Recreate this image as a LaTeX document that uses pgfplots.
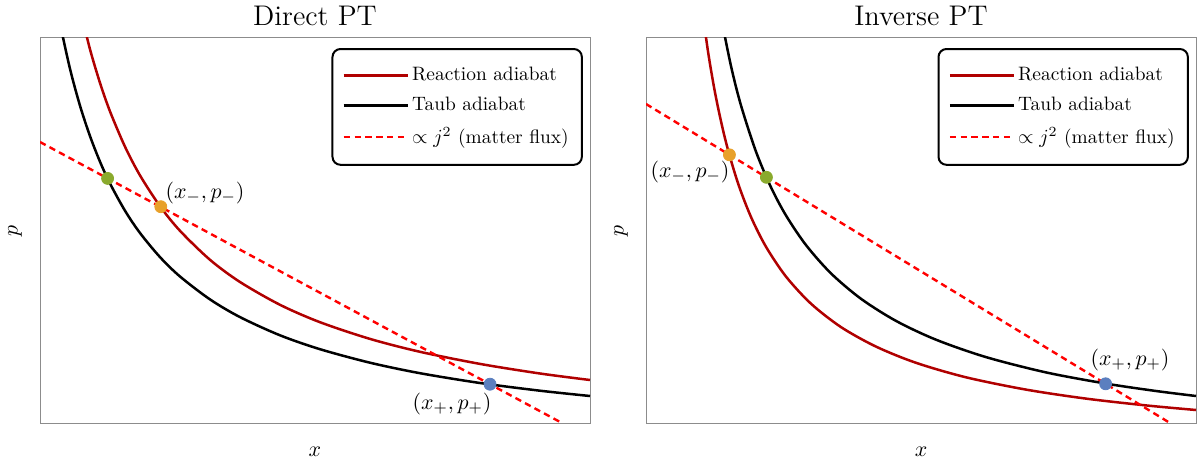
\documentclass[border=0pt]{standalone}
\usepackage{pgfplots}
\pgfplotsset{compat=1.18}
\definecolor{reac}{HTML}{B00000}
\definecolor{fluxred}{HTML}{FF0000}
\definecolor{ptgreen}{HTML}{8AAA2D}
\definecolor{ptorange}{HTML}{E8A02A}
\definecolor{ptblue}{HTML}{5B7FBF}
\definecolor{frame}{HTML}{8C8C8C}

\tikzset{ptlabel/.style={anchor=center, inner sep=0pt, font=\fontsize{10.8}{13}\selectfont}}

\pgfplotsset{
  ptpanel/.style={
    at={(#1,0)}, anchor=south west,
    scale only axis, width=275pt, height=192.5pt,
    xmin=0, xmax=550, ymin=0, ymax=385,
    xtick=\empty, ytick=\empty,
    axis line style={frame, line width=0.5pt},
    xlabel={$x$}, ylabel={$p$},
    xlabel style={at={(axis description cs:0.5,-0.0753)}, anchor=center, inner sep=0pt},
    ylabel style={at={(axis description cs:-0.0455,0.5)}, anchor=center, rotate=0, inner sep=0pt},
    label style={font=\fontsize{11}{13}\selectfont},
    every axis title shift=0pt,
    title style={at={(axis description cs:0.5,1)}, anchor=base, inner sep=0pt, yshift=6pt,
                 font=\fontsize{14.2}{17}\selectfont},
    legend style={at={(rel axis cs:0.987,0.974)}, anchor=north east,
                  draw=black, line width=1pt, rounded corners=4pt,
                  font=\fontsize{9.7}{11.6}\selectfont,
                  inner xsep=5pt, inner ysep=7.5pt, row sep=3.6pt,
                  nodes={inner sep=1.6pt}},
    legend cell align=left,
    legend image code/.code={\draw[##1] (0pt,0pt) -- (32pt,0pt);},
  },
  reacline/.style={reac, line width=1.25pt, smooth},
  taubline/.style={black, line width=1.25pt, smooth},
  fluxline/.style={fluxred, line width=1.2pt, dash pattern=on 3.2pt off 2.2pt},
  pt/.style={only marks, mark=*, mark size=3pt, mark options={draw=#1, fill=#1}, forget plot},
}

\begin{document}
\begin{tikzpicture}
\path[use as bounding box] (-20pt,-19.5pt) rectangle (578.5pt,211.5pt);

% ---- Direct PT ----
\begin{axis}[ptpanel=0pt, title={Direct PT}]
\addplot[reacline] coordinates {
  (40,414.0) (50,373.7) (60,340.1) (70,311.6) (85,276.3) (100,247.6)
  (120,216.8) (140,192.2) (170,163.2) (200,141.0) (240,118.2) (280,100.8)
  (330,84.1) (380,71.2) (440,59.1) (500,49.5) (550,43.0)};
\addlegendentry{Reaction adiabat}
\addplot[taubline] coordinates {
  (15,426.7) (20,399.7) (30,354.2) (40,317.3) (50,286.9) (60,261.3)
  (70,239.5) (85,212.3) (100,190.0) (120,165.9) (140,146.5) (170,123.6)
  (200,105.9) (240,87.7) (280,73.8) (330,60.3) (380,49.8) (440,40.0)
  (500,32.3) (550,27.0)};
\addlegendentry{Taub adiabat}
\addplot[fluxline] coordinates {(0,281) (522,0)};
\addlegendentry{$\propto j^2$ (matter flux)}
\addplot[pt=ptgreen] coordinates {(67.6,244.6)};
\addplot[pt=ptorange] coordinates {(120.8,216.3)};
\addplot[pt=ptblue] coordinates {(450,38.8)};
\node[ptlabel] at (axis cs:165,230) {$(x_{-},p_{-})$};
\node[ptlabel] at (axis cs:412,19) {$(x_{+},p_{+})$};
\end{axis}

% ---- Inverse PT ----
\begin{axis}[ptpanel=303pt, title={Inverse PT}]
\addplot[reacline] coordinates {
  (55,422.9) (62,371.5) (70,325.3) (80,280.6) (92,239.8) (105,206.0)
  (120,176.2) (140,146.4) (165,119.3) (195,95.9) (230,76.4) (270,60.2)
  (320,45.7) (380,33.4) (440,24.4) (500,17.6) (550,13.0)};
\addlegendentry{Reaction adiabat}
\addplot[taubline] coordinates {
  (75,406.1) (85,356.9) (95,317.5) (110,271.3) (125,235.7) (140,207.5)
  (160,177.9) (185,149.6) (215,124.2) (250,102.1) (290,83.3) (340,65.9)
  (400,50.6) (460,39.4) (510,32.0) (550,27.0)};
\addlegendentry{Taub adiabat}
\addplot[fluxline] coordinates {(0,319) (524,0)};
\addlegendentry{$\propto j^2$ (matter flux)}
\addplot[pt=ptorange] coordinates {(83.4,268.2)};
\addplot[pt=ptgreen] coordinates {(120.4,245.7)};
\addplot[pt=ptblue] coordinates {(459.6,39.2)};
\node[ptlabel] at (axis cs:44,251) {$(x_{-},p_{-})$};
\node[ptlabel] at (axis cs:484,63) {$(x_{+},p_{+})$};
\end{axis}
\end{tikzpicture}
\end{document}
